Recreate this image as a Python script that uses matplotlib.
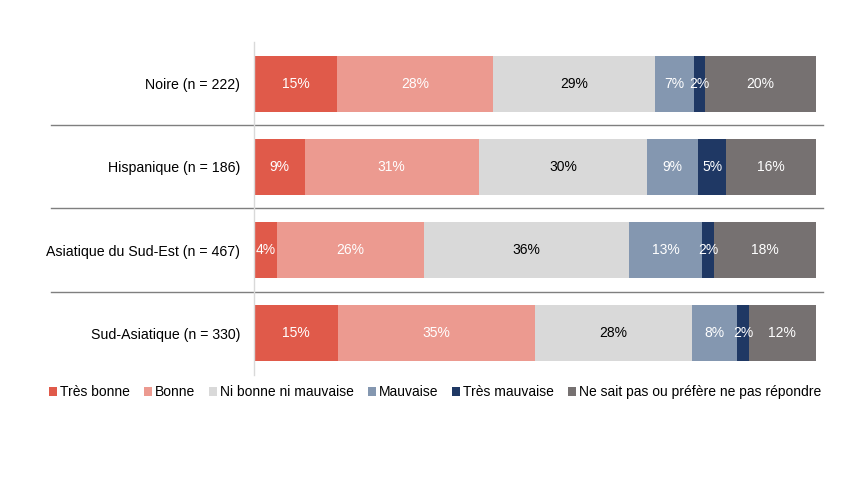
import numpy as np
import matplotlib
matplotlib.use('Agg')
import matplotlib.pyplot as plt
from matplotlib.transforms import blended_transform_factory
from matplotlib.patches import Patch

plt.rcParams['font.family'] = ['Liberation Sans', 'DejaVu Sans']

groups = ['Noire (n = 222)', 'Hispanique (n = 186)',
          'Asiatique du Sud-Est (n = 467)', 'Sud-Asiatique (n = 330)']
categories = ['Très bonne', 'Bonne', 'Ni bonne ni mauvaise', 'Mauvaise',
              'Très mauvaise', 'Ne sait pas ou préfère ne pas répondre']
tres_bonne = [15, 9, 4, 15]
bonne = [28, 31, 26, 35]
ni_bonne = [29, 30, 36, 28]
mauvaise = [7, 9, 13, 8]
tres_mauvaise = [2, 5, 2, 2]
ne_sait_pas = [20, 16, 18, 12]

colors = ['#E05A4A', '#EC9A90', '#D9D9D9', '#8497B0', '#1F3864', '#767171']
text_colors = ['white', 'white', 'black', 'white', 'white', 'white']

series = np.array([tres_bonne, bonne, ni_bonne, mauvaise, tres_mauvaise, ne_sait_pas], dtype=float)
# rows are stacked to 100%
shares = series / series.sum(axis=0) * 100

fig = plt.figure(figsize=(8.64, 4.86), dpi=100)
ax = fig.add_axes([254 / 864, 1 - 375 / 486, (816 - 254) / 864, (375 - 42) / 486])

y = np.arange(len(groups))
left = np.zeros(len(groups))
for i, cat in enumerate(categories):
    ax.barh(y, shares[i], left=left, height=0.67, color=colors[i], label=cat)
    for j in range(len(groups)):
        ax.text(left[j] + shares[i][j] / 2, y[j], f'{int(series[i][j])}%',
                ha='center', va='center', fontsize=10, color=text_colors[i])
    left += shares[i]

ax.set_xlim(0, 100)
ax.set_ylim(len(groups) - 0.5, -0.5)
ax.set_yticks(y)
ax.set_yticklabels(groups, fontsize=10.2, color='#000000')
ax.tick_params(axis='y', length=0, pad=10)
ax.set_xticks([])
for side in ['top', 'right', 'bottom']:
    ax.spines[side].set_visible(False)
ax.spines['left'].set_color('#D9D9D9')
ax.spines['left'].set_linewidth(1)

# separators between groups, running beyond the plot area
trans = blended_transform_factory(fig.transFigure, ax.transData)
for k in range(1, len(groups)):
    ax.plot([51 / 864, 823 / 864], [k - 0.5, k - 0.5], transform=trans,
            color='#7F7F7F', linewidth=1.0, clip_on=False)

handles = [Patch(facecolor=c, edgecolor='none') for c in colors]
fig.legend(handles, categories, loc='center', bbox_to_anchor=(435 / 864, 1 - 392 / 486),
           ncol=6, frameon=False, fontsize=10, handlelength=0.6, handleheight=0.6,
           handletextpad=0.2, columnspacing=1.0, borderaxespad=0)

fig.savefig('out.png', dpi=100)
